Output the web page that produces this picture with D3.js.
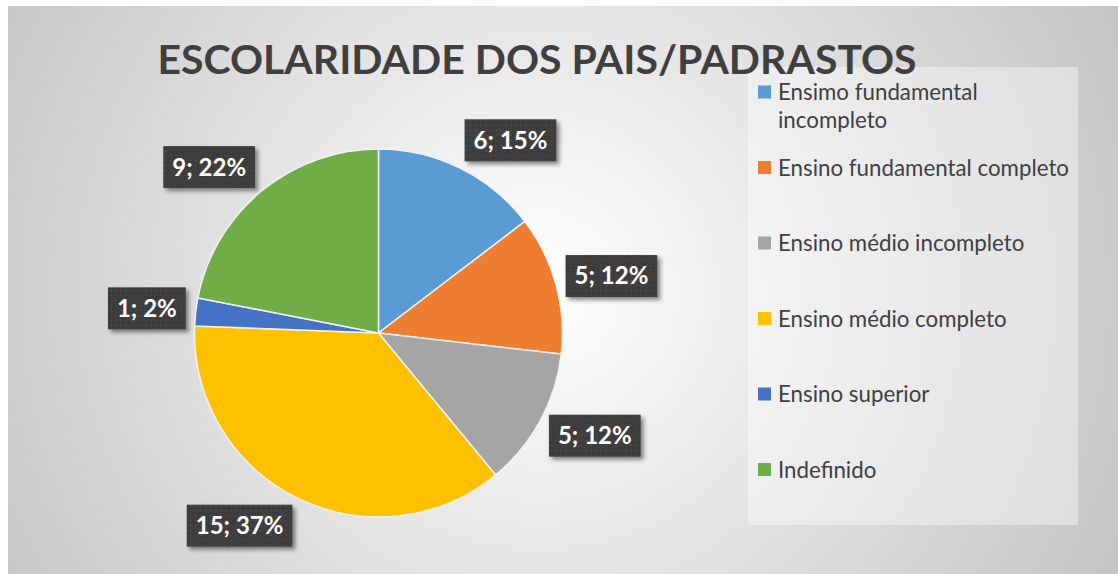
<!DOCTYPE html>
<html>
<head>
<meta charset="utf-8">
<script src="https://cdn.jsdelivr.net/npm/d3@7"></script>
<style>
  html, body { margin: 0; padding: 0; background: #fff; }
  svg { display: block; }
</style>
</head>
<body>
<svg id="chart"></svg>
<script>
var categories = [
    "Ensimo fundamental incompleto",
    "Ensino fundamental completo",
    "Ensino médio incompleto",
    "Ensino médio completo",
    "Ensino superior",
    "Indefinido"
];
var counts = [6, 5, 5, 15, 1, 9];
var colors = ["#5B9BD5", "#ED7D31", "#A5A5A5", "#FFC000", "#4472C4", "#70AD47"];
var title = "ESCOLARIDADE DOS PAIS/PADRASTOS";

var width = 1118;
var height = 574;
var font = "Lato, 'Open Sans', sans-serif";
var textColor = "#404040";

var cx = 378.5, cy = 333, radius = 184;

var svg = d3.select("svg#chart")
    .attr("width", width)
    .attr("height", height);

var defs = svg.append("defs");

// chart area background: light centre fading to grey
var grad = defs.append("radialGradient")
    .attr("id", "bg")
    .attr("gradientUnits", "userSpaceOnUse")
    .attr("cx", 540).attr("cy", 290).attr("r", 640);
grad.append("stop").attr("offset", "0%").attr("stop-color", "#ffffff");
grad.append("stop").attr("offset", "100%").attr("stop-color", "#c4c4c4");

// dotted texture for data labels
var pat = defs.append("pattern")
    .attr("id", "dots")
    .attr("patternUnits", "userSpaceOnUse")
    .attr("width", 5).attr("height", 5);
pat.append("rect").attr("width", 5).attr("height", 5).attr("fill", "#3d3d3d");
pat.append("rect").attr("x", 2).attr("y", 2).attr("width", 1).attr("height", 1)
    .attr("fill", "#5a5a5a");

var shadow = defs.append("filter")
    .attr("id", "shadow")
    .attr("x", "-20%").attr("y", "-20%").attr("width", "150%").attr("height", "160%");
shadow.append("feDropShadow")
    .attr("dx", 3).attr("dy", 3).attr("stdDeviation", 2)
    .attr("flood-color", "#000").attr("flood-opacity", 0.45);

svg.append("rect")
    .attr("x", 8).attr("y", 6)
    .attr("width", width).attr("height", height)
    .attr("fill", "url(#bg)");

// legend box
var legendX = 748, legendTop = 67;
svg.append("rect")
    .attr("x", legendX).attr("y", legendTop)
    .attr("width", 330).attr("height", 458)
    .attr("fill", "rgba(255,255,255,0.4)");

// title
svg.append("text")
    .text(title)
    .attr("x", 537)
    .attr("y", 74)
    .attr("text-anchor", "middle")
    .attr("font-family", font)
    .attr("font-weight", "bold")
    .attr("font-size", 41)
    .attr("fill", "#3f3f3f");

// pie
var pie = d3.pie().sort(null).value(function(d) { return d; });
var arcs = pie(counts);
var totalCount = d3.sum(counts);
var pct = d3.format(".0%");

var arc = d3.arc().innerRadius(0).outerRadius(radius);
var labelArc = d3.arc().innerRadius(radius + 10).outerRadius(radius + 10);

var g = svg.append("g").attr("transform", "translate(" + cx + "," + cy + ")");

g.selectAll("path.slice")
    .data(arcs)
    .enter().append("path")
    .attr("class", "slice")
    .attr("d", arc)
    .attr("fill", function(d, i) { return colors[i]; })
    .attr("stroke", "#f2f2f2")
    .attr("stroke-width", 1.5);

// data labels, placed just outside the arc
var labels = g.selectAll("g.label")
    .data(arcs)
    .enter().append("g")
    .attr("class", "label");

labels.each(function(d) {
    var lg = d3.select(this);
    var box = lg.append("rect")
        .attr("fill", "url(#dots)")
        .attr("filter", "url(#shadow)");
    var t = lg.append("text")
        .text(d.value + "; " + pct(d.value / totalCount))
        .attr("text-anchor", "middle")
        .attr("dy", "0.35em")
        .attr("font-family", font)
        .attr("font-weight", "bold")
        .attr("font-size", 24)
        .attr("fill", "#fff");
    var w = t.node().getComputedTextLength() + 18;
    var h = 42;
    var a = (d.startAngle + d.endAngle) / 2;
    var p = labelArc.centroid(d);
    var x = p[0] + (Math.sin(a) >= 0 ? 1 : -1) * w / 2;
    var y = p[1] - Math.cos(a) * h / 2;
    box.attr("x", x - w / 2).attr("y", y - h / 2).attr("width", w).attr("height", h);
    t.attr("x", x).attr("y", y);
});

// legend
var rowY = d3.scaleLinear().domain([0, 1]).range([92.5, 168]);
var legendTextX = 778;
var maxTextWidth = 296;

var items = svg.selectAll("g.legend")
    .data(categories)
    .enter().append("g")
    .attr("class", "legend")
    .attr("transform", function(d, i) { return "translate(0," + rowY(i) + ")"; });

items.append("rect")
    .attr("x", 758).attr("y", -7)
    .attr("width", 13).attr("height", 13)
    .attr("fill", function(d, i) { return colors[i]; });

items.each(function(d) {
    var t = d3.select(this).append("text")
        .attr("x", legendTextX)
        .attr("font-family", font)
        .attr("font-size", 22.3)
        .attr("fill", textColor);
    var words = d.split(" ");
    var line = [];
    var lineNo = 0;
    var tspan = t.append("tspan").attr("x", legendTextX).attr("y", 0).attr("dy", "0.35em");
    words.forEach(function(word) {
        line.push(word);
        tspan.text(line.join(" "));
        if (tspan.node().getComputedTextLength() > maxTextWidth && line.length > 1) {
            line.pop();
            tspan.text(line.join(" "));
            line = [word];
            lineNo++;
            tspan = t.append("tspan")
                .attr("x", legendTextX)
                .attr("y", lineNo * 28)
                .attr("dy", "0.35em")
                .text(word);
        }
    });
});
</script>
</body>
</html>
